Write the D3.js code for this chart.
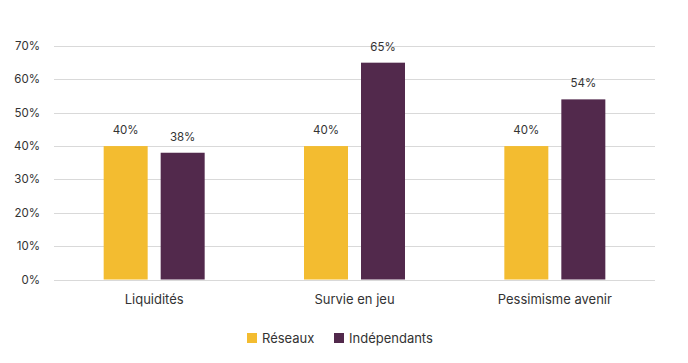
<!DOCTYPE html>
<html>
<head>
<meta charset="utf-8">
<script src="https://cdn.jsdelivr.net/npm/d3@7"></script>
<style>
  body { margin: 0; background: #fff; }
  text { font-family: Inter, "Open Sans", sans-serif; fill: #333; }
</style>
</head>
<body>
<script>
let width = 688;
let height = 363;

let categories = ['Liquidités', 'Survie en jeu', 'Pessimisme avenir'];
let seriesNames = ['Réseaux', 'Indépendants'];
let reseaux = [40, 40, 40];
let independants = [38, 65, 54];
let yTicks = [0, 10, 20, 30, 40, 50, 60, 70];
let colors = ['#F3BC30', '#52294C'];

let margin = {left: 54, right: 33, top: 46, bottom: 84};

let svg = d3.select('body').append('svg')
	.attr('width', width)
	.attr('height', height);

let x0 = d3.scaleBand()
	.domain(categories)
	.range([margin.left, width - margin.right]);

let x1 = d3.scaleBand()
	.domain(seriesNames)
	.range([x0.bandwidth() / 2 - 50.5, x0.bandwidth() / 2 + 50.5])
	.paddingInner(13 / 57);

let y = d3.scaleLinear()
	.domain([0, 70])
	.range([height - margin.bottom + 0.5, margin.top]);

// gridlines
svg.append('g')
	.selectAll('line')
	.data(yTicks)
	.join('line')
	.attr('x1', margin.left)
	.attr('x2', width - margin.right)
	.attr('y1', d => Math.round(y(d)) + 0.5)
	.attr('y2', d => Math.round(y(d)) + 0.5)
	.style('stroke', '#d9d9d9')
	.style('stroke-width', 1);

// y labels
svg.append('g')
	.selectAll('text')
	.data(yTicks)
	.join('text')
	.attr('x', 40)
	.attr('y', d => y(d))
	.attr('dy', '0.35em')
	.attr('text-anchor', 'end')
	.style('font-size', '11.5px')
	.text(d => d + '%');

let rows = categories.map((c, i) => ({cat: c, vals: [reseaux[i], independants[i]]}));

let groups = svg.append('g')
	.selectAll('g')
	.data(rows)
	.join('g')
	.attr('transform', d => 'translate(' + x0(d.cat) + ',0)');

groups.selectAll('rect')
	.data(d => d.vals.map((v, j) => ({s: seriesNames[j], v: v, j: j})))
	.join('rect')
	.attr('x', d => x1(d.s))
	.attr('y', d => y(d.v))
	.attr('width', x1.bandwidth())
	.attr('height', d => y(0) - y(d.v))
	.style('fill', d => colors[d.j]);

groups.selectAll('text.val')
	.data(d => d.vals.map((v, j) => ({s: seriesNames[j], v: v})))
	.join('text')
	.attr('class', 'val')
	.attr('x', d => x1(d.s) + x1.bandwidth() / 2)
	.attr('y', d => y(d.v) - 12)
	.attr('text-anchor', 'middle')
	.style('font-size', '11.5px')
	.text(d => d.v + '%');

// category labels
svg.append('g')
	.selectAll('text')
	.data(categories)
	.join('text')
	.attr('x', d => x0(d) + x0.bandwidth() / 2)
	.attr('y', 304)
	.attr('text-anchor', 'middle')
	.style('font-size', '13px')
	.text(d => d);

// legend
let legendX = [247, 334];
let legend = svg.append('g')
	.selectAll('g')
	.data(seriesNames)
	.join('g')
	.attr('transform', (d, i) => 'translate(' + legendX[i] + ',332)');

legend.append('rect')
	.attr('width', 10)
	.attr('height', 10)
	.attr('y', 1)
	.style('fill', (d, i) => colors[i]);

legend.append('text')
	.attr('x', 15)
	.attr('y', 6)
	.attr('dy', '0.35em')
	.style('font-size', '13px')
	.text(d => d);
</script>
</body>
</html>
